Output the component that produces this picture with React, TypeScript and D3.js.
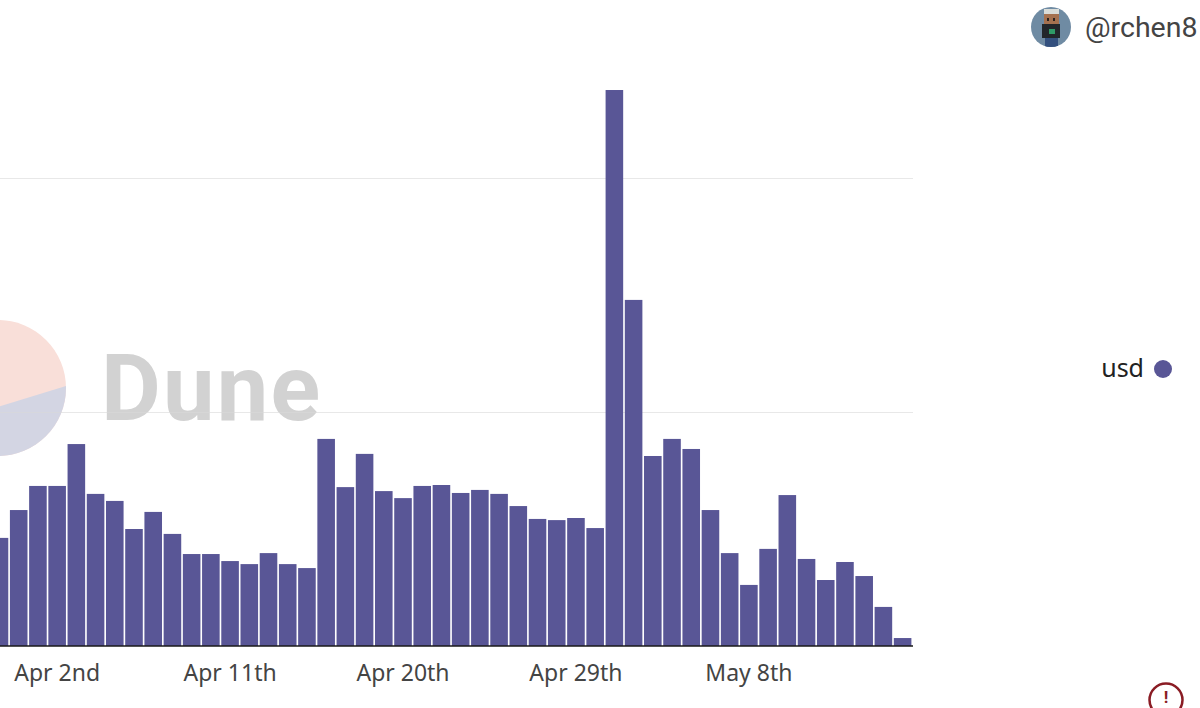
import React, { useEffect, useRef } from "react";
import * as d3 from "d3";

// daily volume, Mar 30th to May 16th (millions usd)
const startDate = new Date(2021, 2, 30);
const usd = [
  0.462, 0.581, 0.684, 0.684, 0.863, 0.65, 0.62, 0.5, 0.573, 0.479, 0.393, 0.393,
  0.363, 0.35, 0.397, 0.35, 0.333, 0.885, 0.679, 0.821, 0.662, 0.632, 0.684, 0.688,
  0.654, 0.667, 0.65, 0.598, 0.543, 0.538, 0.547, 0.504, 2.376, 1.479, 0.812, 0.885,
  0.842, 0.581, 0.397, 0.261, 0.415, 0.645, 0.372, 0.282, 0.359, 0.299, 0.167, 0.034,
];
const dates = usd.map((_, i) => d3.timeDay.offset(startDate, i));
const tickIndexes = [3, 12, 21, 30, 39];
const tickLabels = ["Apr 2nd", "Apr 11th", "Apr 20th", "Apr 29th", "May 8th"];
const gridValues = [1, 2];

const BAR_COLOR = "#595696";

const App: React.FC = () => {
  const chartRef = useRef<SVGSVGElement | null>(null);

  useEffect(() => {
    const svg = d3.select(chartRef.current);
    svg.selectAll("*").remove();

    const baseline = 646;
    const x = d3
      .scaleBand<Date>()
      .domain(dates)
      .range([-9.3, 911.4])
      .paddingInner(0.085);
    const y = d3.scaleLinear().domain([0, 2]).range([baseline, 178]);

    const defs = svg.append("defs");
    defs
      .append("clipPath")
      .attr("id", "pie-lower")
      .append("polygon")
      .attr("points", "-80,431 66,386 140,386 140,470 -80,470");
    defs
      .append("clipPath")
      .attr("id", "avatar-clip")
      .append("circle")
      .attr("cx", 1051)
      .attr("cy", 27)
      .attr("r", 20);

    // watermark sits behind everything
    const mark = svg.append("g");
    mark.append("circle").attr("cx", -2).attr("cy", 388).attr("r", 68).attr("fill", "#f9dfd9");
    mark
      .append("circle")
      .attr("cx", -2)
      .attr("cy", 388)
      .attr("r", 68)
      .attr("fill", "#d3d5e3")
      .attr("clip-path", "url(#pie-lower)");
    mark
      .append("text")
      .attr("x", 101)
      .attr("y", 420)
      .attr("font-family", "Roboto, sans-serif")
      .attr("font-weight", 700)
      .attr("font-size", 92)
      .attr("letter-spacing", 2.2)
      .attr("fill", "#d2d2d2")
      .text("Dune");

    svg
      .append("g")
      .selectAll("line")
      .data(gridValues)
      .enter()
      .append("line")
      .attr("x1", 0)
      .attr("x2", 913)
      .attr("y1", (d) => y(d) + 0.5)
      .attr("y2", (d) => y(d) + 0.5)
      .attr("stroke", "#d8d8d8")
      .attr("stroke-opacity", 0.6);

    svg
      .append("g")
      .selectAll("rect")
      .data(usd)
      .enter()
      .append("rect")
      .attr("x", (_, i) => x(dates[i]) ?? 0)
      .attr("y", (d) => y(d))
      .attr("width", x.bandwidth())
      .attr("height", (d) => baseline - y(d))
      .attr("fill", BAR_COLOR);

    const axis = d3
      .axisBottom(x)
      .tickValues(tickIndexes.map((i) => dates[i]))
      .tickFormat((_, i) => tickLabels[i])
      .tickSize(0)
      .tickPadding(19);
    const axisG = svg.append("g").attr("transform", `translate(0,${baseline})`).call(axis);
    axisG.select(".domain").attr("d", "M0,0H913").attr("stroke", "#1a1a1a").attr("stroke-width", 1.5);
    axisG
      .selectAll("text")
      .attr("font-family", "'Noto Sans', sans-serif")
      .attr("font-size", 23)
      .attr("fill", "#444");

    // legend
    svg
      .append("text")
      .attr("x", 1144)
      .attr("y", 377)
      .attr("text-anchor", "end")
      .attr("font-family", "'Noto Sans', sans-serif")
      .attr("font-size", 25)
      .attr("fill", "#222")
      .text("usd");
    svg.append("circle").attr("cx", 1163).attr("cy", 369).attr("r", 9).attr("fill", BAR_COLOR);

    // avatar
    const avatar = svg.append("g").attr("clip-path", "url(#avatar-clip)");
    const avatarParts = [
      [1031, 7, 40, 40, "#6f8ba3"],
      [1044, 9, 15, 6, "#d9dcd8"],
      [1044, 14, 15, 10, "#a5714f"],
      [1047, 18, 2, 3, "#2a2320"],
      [1053, 18, 2, 3, "#2a2320"],
      [1042, 24, 18, 14, "#22262a"],
      [1049, 29, 6, 5, "#2f9a66"],
      [1045, 38, 13, 9, "#33507e"],
    ] as const;
    avatarParts.forEach(([ax, ay, w, h, fill]) => {
      avatar.append("rect").attr("x", ax).attr("y", ay).attr("width", w).attr("height", h).attr("fill", fill);
    });
    svg
      .append("text")
      .attr("x", 1085)
      .attr("y", 37)
      .attr("font-family", "Roboto, sans-serif")
      .attr("font-size", 28.5)
      .attr("fill", "#444")
      .text("@rchen8");

    // warning icon, its ring runs off the bottom of the page
    svg
      .append("circle")
      .attr("cx", 1166)
      .attr("cy", 700)
      .attr("r", 16.5)
      .attr("fill", "none")
      .attr("stroke", "#8a1c24")
      .attr("stroke-width", 2.5);
    svg
      .append("text")
      .attr("x", 1166)
      .attr("y", 703)
      .attr("text-anchor", "middle")
      .attr("font-family", "Roboto, sans-serif")
      .attr("font-weight", 700)
      .attr("font-size", 17)
      .attr("fill", "#8a1c24")
      .text("!");
  }, []);

  return (
    <svg
      ref={chartRef}
      width={1200}
      height={708}
      style={{ position: "absolute", left: 0, top: 0, background: "#fff" }}
    />
  );
};

export default App;
